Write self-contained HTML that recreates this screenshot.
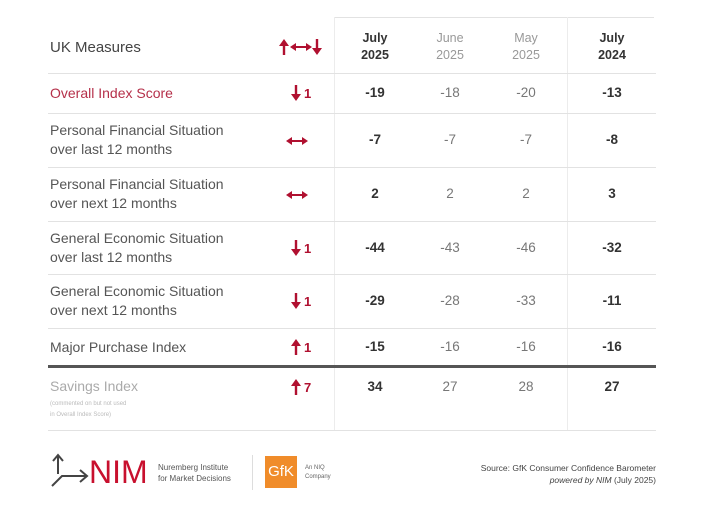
<!DOCTYPE html><html><head><style>
body{margin:0;width:720px;height:508px;background:#fff;font-family:"Liberation Sans",sans-serif;position:relative;overflow:hidden}
.a{position:absolute;white-space:nowrap}
.h{position:absolute;left:48px;width:608px;height:1px;background:#e2e2e2}
.v{position:absolute;width:1px;background:#ececec}
.l{left:50px;color:#555;font-size:14px;line-height:19px}
.c{transform:translateX(-50%);text-align:center;font-size:13.5px;color:#777}
.b{font-weight:bold;color:#333}
.n{position:absolute;color:#b01030;font-size:13px;font-weight:bold}
</style></head><body>
<svg width="0" height="0" style="position:absolute"><defs>
<g id="dn"><path d="M5 0 V11" stroke="#b01030" stroke-width="2.4"/><path d="M0 9 L5 16 L10 9 Z" fill="#b01030"/></g>
<g id="up"><path d="M5 5 V16" stroke="#b01030" stroke-width="2.4"/><path d="M0 7 L5 0 L10 7 Z" fill="#b01030"/></g>
<g id="lr"><path d="M4 5 H18" stroke="#b01030" stroke-width="2"/><path d="M0 5 L6 1 L6 9 Z M22 5 L16 1 L16 9 Z" fill="#b01030"/></g>
</defs></svg>
<div class="h" style="top:17px;left:334px;width:320px"></div>
<div class="v" style="left:334px;top:17px;height:413px"></div>
<div class="v" style="left:567px;top:17px;height:413px"></div>
<div class="h" style="top:73px"></div>
<div class="h" style="top:113px"></div>
<div class="h" style="top:167px"></div>
<div class="h" style="top:221px"></div>
<div class="h" style="top:274px"></div>
<div class="h" style="top:328px"></div>
<div class="h" style="top:365px;height:3px;background:#555"></div>
<div class="h" style="top:430px"></div>

<div class="a l" style="top:38px;font-size:15px;color:#444">UK Measures</div>
<svg class="a" style="left:279px;top:39px" width="44" height="17"><use href="#up" x="0" y="0"/><use href="#lr" x="11" y="3"/><use href="#dn" x="33" y="0"/></svg>
<div class="a c b" style="left:375px;top:30px;line-height:17px;font-size:12.5px">July<br>2025</div>
<div class="a c" style="left:450px;top:30px;line-height:17px;font-size:12.5px;color:#999">June<br>2025</div>
<div class="a c" style="left:526px;top:30px;line-height:17px;font-size:12.5px;color:#999">May<br>2025</div>
<div class="a c b" style="left:612px;top:30px;line-height:17px;font-size:12.5px">July<br>2024</div>

<div class="a l" style="top:84px;color:#b5304a">Overall Index Score</div>
<div class="a l" style="top:121px">Personal Financial Situation<br>over last 12 months</div>
<div class="a l" style="top:175px">Personal Financial Situation<br>over next 12 months</div>
<div class="a l" style="top:229px">General Economic Situation<br>over last 12 months</div>
<div class="a l" style="top:282px">General Economic Situation<br>over next 12 months</div>
<div class="a l" style="top:338px">Major Purchase Index</div>
<div class="a l" style="top:377px;color:#aaa">Savings Index</div>
<div class="a" style="left:50px;top:399px;font-size:6px;line-height:11px;color:#bbb">(commented on but not used<br>in Overall Index Score)</div>

<svg class="a" style="left:291px;top:85px" width="10" height="16"><use href="#dn"/></svg><div class="n" style="left:304px;top:86px">1</div>
<svg class="a" style="left:286px;top:136px" width="22" height="10"><use href="#lr"/></svg>
<svg class="a" style="left:286px;top:190px" width="22" height="10"><use href="#lr"/></svg>
<svg class="a" style="left:291px;top:240px" width="10" height="16"><use href="#dn"/></svg><div class="n" style="left:304px;top:241px">1</div>
<svg class="a" style="left:291px;top:293px" width="10" height="16"><use href="#dn"/></svg><div class="n" style="left:304px;top:294px">1</div>
<svg class="a" style="left:291px;top:339px" width="10" height="16"><use href="#up"/></svg><div class="n" style="left:304px;top:340px">1</div>
<svg class="a" style="left:291px;top:379px" width="10" height="16"><use href="#up"/></svg><div class="n" style="left:304px;top:380px">7</div>

<div class="a c b" style="left:375px;top:85px">-19</div><div class="a c" style="left:450px;top:85px">-18</div><div class="a c" style="left:526px;top:85px">-20</div><div class="a c b" style="left:612px;top:85px">-13</div>
<div class="a c b" style="left:375px;top:132px">-7</div><div class="a c" style="left:450px;top:132px">-7</div><div class="a c" style="left:526px;top:132px">-7</div><div class="a c b" style="left:612px;top:132px">-8</div>
<div class="a c b" style="left:375px;top:186px">2</div><div class="a c" style="left:450px;top:186px">2</div><div class="a c" style="left:526px;top:186px">2</div><div class="a c b" style="left:612px;top:186px">3</div>
<div class="a c b" style="left:375px;top:240px">-44</div><div class="a c" style="left:450px;top:240px">-43</div><div class="a c" style="left:526px;top:240px">-46</div><div class="a c b" style="left:612px;top:240px">-32</div>
<div class="a c b" style="left:375px;top:293px">-29</div><div class="a c" style="left:450px;top:293px">-28</div><div class="a c" style="left:526px;top:293px">-33</div><div class="a c b" style="left:612px;top:293px">-11</div>
<div class="a c b" style="left:375px;top:339px">-15</div><div class="a c" style="left:450px;top:339px">-16</div><div class="a c" style="left:526px;top:339px">-16</div><div class="a c b" style="left:612px;top:339px">-16</div>
<div class="a c b" style="left:375px;top:379px">34</div><div class="a c" style="left:450px;top:379px">27</div><div class="a c" style="left:526px;top:379px">28</div><div class="a c b" style="left:612px;top:379px">27</div>

<svg class="a" style="left:50px;top:452px" width="40" height="36"><g stroke="#444" stroke-width="2" fill="none"><path d="M8 22 V4 M3 9 L8 3 L13 9"/><path d="M2 34 L12 24 H36 M30 18 L37 24 L30 30"/></g></svg>
<div class="a" style="left:89px;top:456px;font-size:32px;color:#c8102e;line-height:32px">NIM</div>
<div class="a" style="left:158px;top:462px;font-size:8px;line-height:11px;color:#555">Nuremberg Institute<br>for Market Decisions</div>
<div class="a" style="left:252px;top:455px;width:1px;height:35px;background:#ddd"></div>
<div class="a" style="left:265px;top:456px;width:32px;height:32px;background:#f08c2a;color:#fff;font-size:15px;line-height:32px;text-align:center">GfK</div>
<div class="a" style="left:305px;top:464px;font-size:6px;line-height:9px;color:#666">An NIQ<br>Company</div>
<div class="a" style="right:64px;top:462px;font-size:8.5px;line-height:12px;color:#444;text-align:right">Source: GfK Consumer Confidence Barometer<br><i>powered by NIM</i> (July 2025)</div>
</body></html>
